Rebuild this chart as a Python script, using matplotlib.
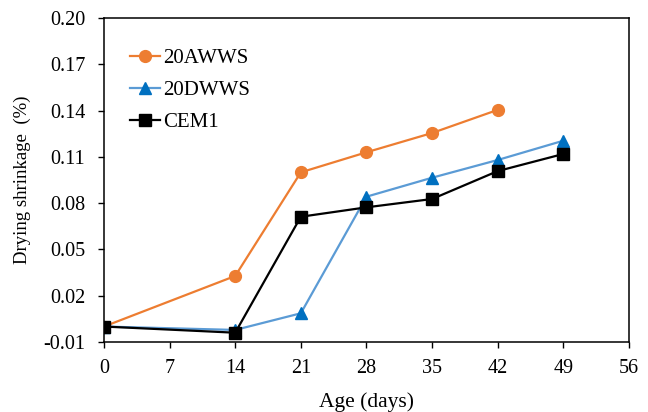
import numpy as np
import matplotlib.pyplot as plt
from matplotlib.ticker import FormatStrFormatter

plt.rcParams['font.family'] = ['Liberation Serif', 'DejaVu Serif']
plt.rcParams['axes.unicode_minus'] = False

# Data
age_aw = [0, 14, 21, 28, 35, 42]
shrink_aw = [0.0, 0.0328, 0.100, 0.113, 0.1255, 0.1405]

age_dw = [0, 14, 21, 28, 35, 42, 49]
shrink_dw = [0.0, -0.0022, 0.0086, 0.0842, 0.0965, 0.108, 0.1205]

age_cem = [0, 14, 21, 28, 35, 42, 49]
shrink_cem = [0.0, -0.004, 0.0712, 0.0773, 0.0827, 0.1008, 0.1119]

x_ticks = [0, 7, 14, 21, 28, 35, 42, 49, 56]
y_ticks = [-0.01, 0.02, 0.05, 0.08, 0.11, 0.14, 0.17, 0.20]

fig = plt.figure(figsize=(6.48, 4.12), dpi=100)
ax = fig.add_axes([0.1605, 0.170, 0.810, 0.786])

ax.plot(age_aw, shrink_aw, color='#ED7D31', lw=1.6, marker='o', ms=8.5,
        label='20AWWS')
ax.plot(age_dw, shrink_dw, color='#5B9BD5', lw=1.6, marker='^', ms=8.5,
        markerfacecolor='#0070C0', markeredgecolor='#0070C0', label='20DWWS')
ax.plot(age_cem, shrink_cem, color='black', lw=1.6, marker='s', ms=8,
        label='CEM1')

ax.set_xlim(0, 56)
ax.set_ylim(-0.01, 0.20)
ax.set_xticks(x_ticks)
ax.set_yticks(y_ticks)
ax.yaxis.set_major_formatter(FormatStrFormatter('%.2f'))
ax.tick_params(direction='out', length=4.5, width=1, labelsize=14.5)
ax.tick_params(axis='x', pad=8)
ax.tick_params(axis='y', pad=9)
for s in ax.spines.values():
    s.set_linewidth(1.1)

ax.set_xlabel('Age (days)', fontsize=15.5, labelpad=10)
ax.set_ylabel('Drying shrinkage  (%)', fontsize=13.5, labelpad=9)

ax.legend(loc='upper left', bbox_to_anchor=(0.034, 0.932), frameon=False,
          fontsize=15, handlelength=1.45, handletextpad=0.15,
          labelspacing=0.6, borderaxespad=0)

fig.savefig('out.png', dpi=100)
